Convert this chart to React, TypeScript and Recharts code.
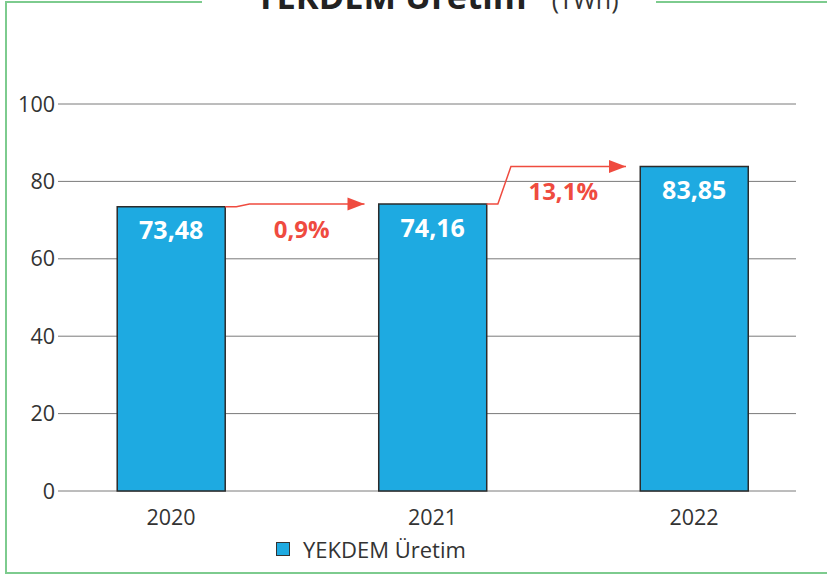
import React from 'react';
import { ComposedChart, Bar, XAxis, YAxis, CartesianGrid, LabelList, Scatter, Legend } from 'recharts';

const years = ['2020', '2021', '2022'];
const values = [73.48, 74.16, 83.85];
const changes = ['0,9%', '13,1%'];
const yTicks = [0, 20, 40, 60, 80, 100];
const seriesName = 'YEKDEM Üretim';

const BLUE = '#1EAAE1';
const RED = '#EF4B3F';
const GREEN = '#7DCB8E';
const TEXT = '#333333';
const FONT = '"Open Sans", sans-serif';

const X_DOMAIN: [number, number] = [-0.432, 2.39];
const BAR_HALF = 0.2065;

const data = years.map((year, i) => ({ idx: i, year, value: values[i] }));

const arrows = changes.map((pct, i) => {
  const from = i;
  const to = i + 1;
  const bendStart = from + 0.25;
  const bendEnd = from + 0.30;
  const tip = to - 0.26;
  return {
    pct,
    points: [
      { idx: from + BAR_HALF, value: values[from] },
      { idx: bendStart, value: values[from] },
      { idx: bendEnd, value: values[to] },
      { idx: tip, value: values[to], tip: true },
    ],
    label: [{ idx: (bendEnd + tip) / 2 - 0.02, value: values[to], text: pct }],
  };
});

const fmt = (v: any) => Number(v).toFixed(2).replace('.', ',');

const ArrowShape = (props: any) => {
  const { cx, cy, payload } = props;
  if (!payload || !payload.tip) return <g />;
  return <path d={`M${cx - 17},${cy - 6.5} L${cx},${cy} L${cx - 17},${cy + 6.5} Z`} fill={RED} />;
};

const PctShape = (props: any) => {
  const { cx, cy, payload } = props;
  return (
    <text x={cx} y={cy + 24} textAnchor="middle" dominantBaseline="central" fill={RED}
      fontSize={24} fontWeight={700} fontFamily={FONT}>
      {payload.text}
    </text>
  );
};

const LegendContent = (props: any) => {
  const items = (props.payload || []).filter((p: any) => p.type !== 'none');
  return (
    <div style={{ display: 'flex', alignItems: 'center', height: 28, fontFamily: FONT }}>
      {items.map((it: any) => (
        <div key={it.value} style={{ display: 'flex', alignItems: 'center' }}>
          <span style={{ display: 'inline-block', width: 12, height: 12, background: BLUE, border: `1.5px solid ${TEXT}` }} />
          <span style={{ marginLeft: 13, fontSize: 22, color: TEXT }}>{it.value}</span>
        </div>
      ))}
    </div>
  );
};

export default function App() {
  return (
    <div style={{ position: 'absolute', left: 0, top: 0, width: 827, height: 574, background: '#fff', overflow: 'hidden' }}>
      <div style={{ position: 'absolute', left: 5, top: 1, width: 2, height: 573, background: GREEN }} />
      <div style={{ position: 'absolute', left: 5, top: 572, width: 822, height: 2, background: GREEN }} />
      <div style={{ position: 'absolute', left: 5, top: 1, width: 197, height: 2, background: GREEN }} />
      <div style={{ position: 'absolute', left: 656, top: 1, width: 171, height: 2, background: GREEN }} />
      <div style={{ position: 'absolute', left: 255, top: -21, whiteSpace: 'nowrap', fontFamily: FONT, lineHeight: 1, color: '#222' }}>
        <span style={{ fontSize: 34.5, fontWeight: 700 }}>YEKDEM Üretim</span>
        <span style={{ fontSize: 25, fontWeight: 400, color: TEXT, marginLeft: 25 }}>(TWh)</span>
      </div>
      <ComposedChart
        width={827}
        height={574}
        data={data}
        margin={{ top: 104, right: 31, left: 0, bottom: 11 }}
        style={{ position: 'absolute', left: 0, top: 0 }}
      >
        <CartesianGrid vertical={false} stroke="#7a7a7a" strokeWidth={1} />
        <XAxis
          type="number"
          dataKey="idx"
          domain={X_DOMAIN}
          allowDataOverflow
          ticks={[0, 1, 2]}
          tickFormatter={(i: number) => years[i] ?? ''}
          axisLine={false}
          tickLine={false}
          height={44}
          tickMargin={13}
          tick={{ fill: TEXT, fontSize: 21.5, fontFamily: FONT }}
        />
        <XAxis
          xAxisId="arrow"
          type="number"
          dataKey="idx"
          domain={X_DOMAIN}
          allowDataOverflow
          hide
        />
        <YAxis
          type="number"
          domain={[0, 100]}
          ticks={yTicks}
          width={58}
          axisLine={false}
          tickLine={false}
          tickSize={0}
          tickMargin={3}
          tick={{ fill: TEXT, fontSize: 21.5, fontFamily: FONT }}
        />
        <Legend
          verticalAlign="bottom"
          content={<LegendContent />}
          wrapperStyle={{ left: 276, bottom: 11, width: 'auto' }}
        />
        <Bar dataKey="value" name={seriesName} barSize={108} fill={BLUE} stroke="#2b2b2b" strokeWidth={1.5} isAnimationActive={false}>
          <LabelList dataKey="value" position="insideTop" offset={15} formatter={fmt}
            fill="#fff" fontSize={25} fontWeight={700} fontFamily={FONT} />
        </Bar>
        {arrows.map((a, i) => (
          <Scatter key={`arrow-${i}`} xAxisId="arrow" data={a.points} dataKey="value" legendType="none"
            line={{ stroke: RED, strokeWidth: 1.5 }} lineType="joint" fill={RED}
            shape={<ArrowShape />} isAnimationActive={false} />
        ))}
        {arrows.map((a, i) => (
          <Scatter key={`pct-${i}`} xAxisId="arrow" data={a.label} dataKey="value" legendType="none"
            shape={<PctShape />} isAnimationActive={false} />
        ))}
      </ComposedChart>
    </div>
  );
}
